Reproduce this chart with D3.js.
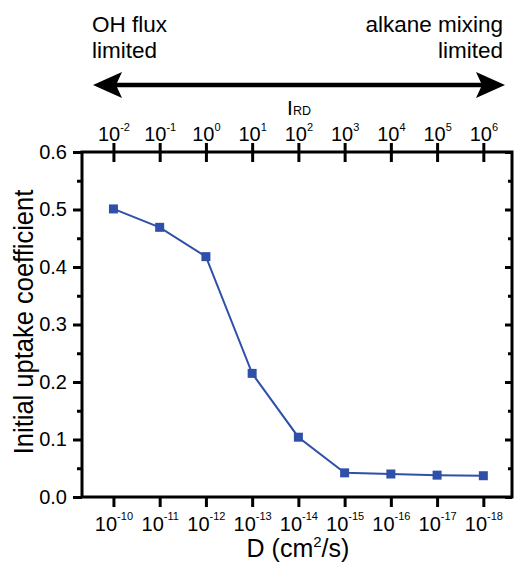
<!DOCTYPE html>
<html>
<head>
<meta charset="utf-8">
<script src="https://cdn.jsdelivr.net/npm/d3@7"></script>
<style>
  body { margin: 0; background: #fff; }
  text { font-family: "Liberation Sans", Arial, sans-serif; fill: #000; }
</style>
</head>
<body>
<script>
// data
let dExponents = [-10, -11, -12, -13, -14, -15, -16, -17, -18]
let irdExponents = [-2, -1, 0, 1, 2, 3, 4, 5, 6]
let uptake = [0.501, 0.469, 0.418, 0.215, 0.104, 0.042, 0.040, 0.038, 0.037]
let yTicks = [0, 0.1, 0.2, 0.3, 0.4, 0.5, 0.6]

let width = 515
let height = 563
let fLeft = 82, fRight = 512, fTop = 152, fBottom = 497

let svg = d3.select('body').append('svg')
  .attr('width', width).attr('height', height)

// x in decades of D; first tick sits ~31 px in from the frame
let x = d3.scaleLinear().domain([-9.32, -18.62]).range([fLeft, fRight])
// I_RD exponent shares the positions: I = -D - 12
let xTop = d3.scaleLinear().domain([-2.68, 6.62]).range([fLeft, fRight])
let y = d3.scaleLinear().domain([0, 0.6]).range([fBottom, fTop])

function sup (sel, size, dy) {
  sel.selectAll('.tick text').each(function (d) {
    let t = d3.select(this)
    t.text('10')
    t.append('tspan').attr('dy', dy).attr('font-size', size).text(d)
  })
}

// bottom axis
let gx = svg.append('g')
  .attr('transform', `translate(0,${fBottom})`)
  .call(d3.axisBottom(x).tickValues(dExponents).tickSize(10))
gx.select('.domain').remove()
gx.selectAll('line').attr('stroke', '#000').attr('stroke-width', 3)
gx.selectAll('text').attr('font-size', 20).attr('y', 34).attr('dy', 0)
sup(gx, 11, -11)

// top axis, ticks cross the frame
let gt = svg.append('g')
  .attr('transform', `translate(0,${fTop})`)
  .call(d3.axisTop(xTop).tickValues(irdExponents).tickSize(9))
gt.select('.domain').remove()
gt.selectAll('line').attr('stroke', '#000').attr('stroke-width', 3).attr('y2', 10).attr('y1', -9)
gt.selectAll('text').attr('font-size', 20).attr('y', -11).attr('dy', 0)
sup(gt, 11, -10)

// left axis with minor ticks
let minor = d3.range(0.05, 0.6, 0.1)
let gyMinor = svg.append('g')
  .attr('transform', `translate(${fLeft},0)`)
  .call(d3.axisLeft(y).tickValues(minor).tickSize(5).tickFormat(''))
gyMinor.select('.domain').remove()
gyMinor.selectAll('line').attr('stroke', '#000').attr('stroke-width', 3)

let gy = svg.append('g')
  .attr('transform', `translate(${fLeft},0)`)
  .call(d3.axisLeft(y).tickValues(yTicks).tickSize(9).tickFormat(d3.format('.1f')))
gy.select('.domain').remove()
gy.selectAll('line').attr('stroke', '#000').attr('stroke-width', 3)
gy.selectAll('text').attr('font-size', 20).attr('x', -15)

// right axis, ticks inward
let gr = svg.append('g').attr('transform', `translate(${fRight},0)`)
gr.call(d3.axisLeft(y).tickValues(yTicks).tickSize(7).tickFormat(''))
gr.call(g => g.append('g').call(d3.axisLeft(y).tickValues(minor).tickSize(4).tickFormat('')))
gr.selectAll('.domain').remove()
gr.selectAll('line').attr('stroke', '#000').attr('stroke-width', 3)

// frame
svg.append('rect')
  .attr('x', fLeft).attr('y', fTop)
  .attr('width', fRight - fLeft).attr('height', fBottom - fTop)
  .attr('fill', 'none').attr('stroke', '#000').attr('stroke-width', 3)

// series
let blue = '#2f50a9'
let pts = dExponents.map((d, i) => [d, uptake[i]])
svg.append('path')
  .datum(pts)
  .attr('fill', 'none')
  .attr('stroke', blue)
  .attr('stroke-width', 2)
  .attr('d', d3.line().x(d => x(d[0])).y(d => y(d[1])))
svg.selectAll('.pt')
  .data(pts)
  .join('rect')
  .attr('class', 'pt')
  .attr('x', d => x(d[0]) - 4.5)
  .attr('y', d => y(d[1]) - 4.5)
  .attr('width', 9).attr('height', 9)
  .attr('fill', blue)

// axis titles (glyphs in the original look a bit stretched across)
svg.append('text')
  .attr('transform', 'translate(33,322) scale(1.12,1) rotate(-90)')
  .attr('text-anchor', 'middle')
  .attr('font-size', 25.5)
  .text('Initial uptake coefficient')

let xl = svg.append('text')
  .attr('x', 298).attr('y', 557)
  .attr('text-anchor', 'middle')
  .attr('font-size', 25)
xl.append('tspan').text('D (cm')
xl.append('tspan').attr('dy', -10).attr('font-size', 15).text('2')
xl.append('tspan').attr('dy', 10).text('/s)')

let ird = svg.append('text')
  .attr('x', 299).attr('y', 115)
  .attr('text-anchor', 'middle')
  .attr('font-size', 21)
ird.append('tspan').text('I')
ird.append('tspan').attr('font-size', 12.5).text('RD')

// double arrow
let ay = 85
svg.append('line')
  .attr('x1', 110).attr('x2', 488).attr('y1', ay).attr('y2', ay)
  .attr('stroke', '#000').attr('stroke-width', 4.5)
svg.append('path')
  .attr('d', `M93,${ay} L122,${ay - 13} L116,${ay} L122,${ay + 13} Z`)
  .attr('fill', '#000')
svg.append('path')
  .attr('d', `M505,${ay} L476,${ay - 13} L482,${ay} L476,${ay + 13} Z`)
  .attr('fill', '#000')

// regime labels
let lab = [
  ['OH flux', 92, 32, 'start'],
  ['limited', 92, 58, 'start'],
  ['alkane mixing', 503, 32, 'end'],
  ['limited', 503, 58, 'end']
]
svg.selectAll('.lab')
  .data(lab)
  .join('text')
  .attr('class', 'lab')
  .attr('x', d => d[1]).attr('y', d => d[2])
  .attr('text-anchor', d => d[3])
  .attr('font-size', 22.5)
  .text(d => d[0])
</script>
</body>
</html>
